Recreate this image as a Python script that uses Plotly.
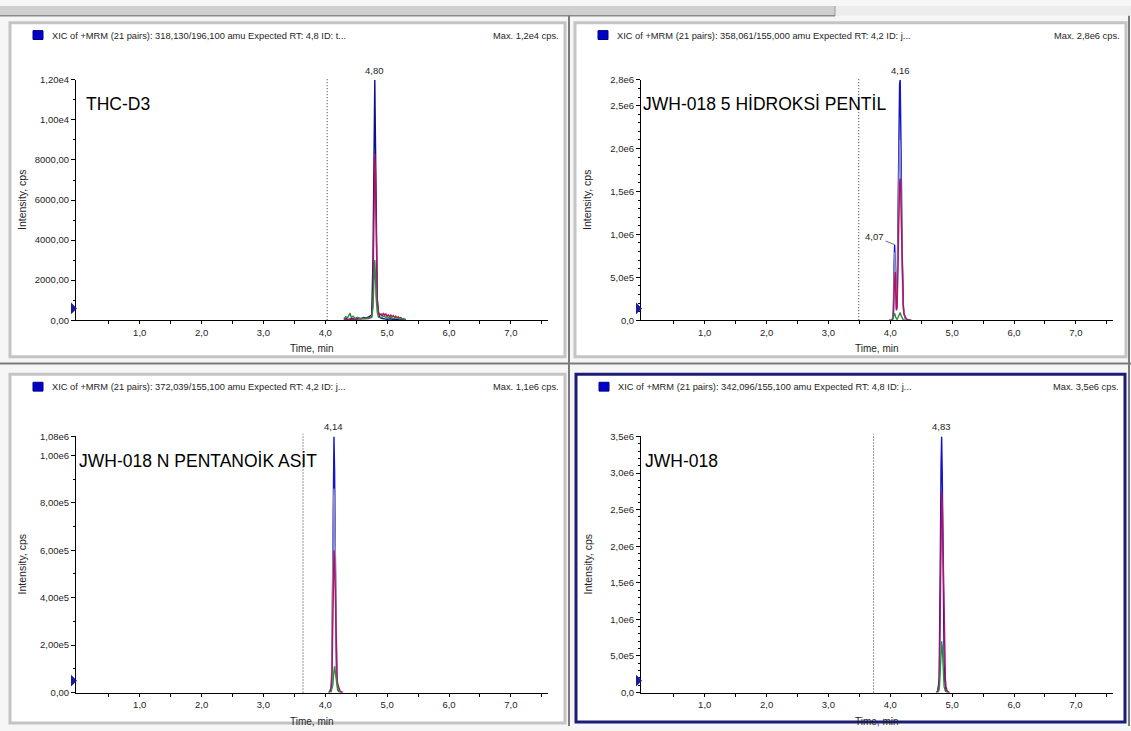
import plotly.graph_objects as go

W, H = 1131, 731
FONT = "Liberation Sans"

# ---------------- data ----------------
# THC-D3  (318,130/196,100)
thc_blue_t = [4.30, 4.34, 4.38, 4.42, 4.46, 4.50, 4.54, 4.58, 4.62, 4.66, 4.70, 4.73, 4.75, 4.77, 4.78,
              4.79, 4.80, 4.81, 4.82, 4.83, 4.84, 4.86, 4.88, 4.91, 4.95, 5.00, 5.05, 5.10, 5.15, 5.20, 5.25, 5.30]
thc_blue_y = [40, 70, 30, 90, 60, 50, 110, 80, 140, 100, 170, 210, 260, 2900, 6800,
              10500, 12000, 9200, 5200, 2600, 1100, 380, 160, 90, 60, 40, 70, 30, 50, 40, 20, 30]
thc_red_t = [4.30, 4.40, 4.50, 4.60, 4.70, 4.75, 4.77, 4.78, 4.79, 4.80, 4.81, 4.82, 4.83, 4.84, 4.86, 4.88,
             4.90, 4.92, 4.94, 4.96, 4.98, 5.00, 5.02, 5.04, 5.06, 5.08, 5.10, 5.12, 5.14, 5.16, 5.18, 5.20,
             5.22, 5.25, 5.30]
thc_red_y = [20, 40, 30, 60, 80, 150, 900, 3600, 6900, 8300, 7400, 4600, 2100, 900, 380, 240,
             330, 200, 360, 240, 310, 180, 280, 150, 260, 170, 230, 120, 200, 110, 170, 90,
             130, 60, 30]
thc_green_t = [4.30, 4.33, 4.36, 4.38, 4.40, 4.42, 4.45, 4.48, 4.52, 4.56, 4.60, 4.65, 4.70, 4.75, 4.77,
               4.78, 4.79, 4.80, 4.81, 4.82, 4.84, 4.86, 4.90, 4.95, 5.00, 5.05, 5.10, 5.15, 5.20, 5.25, 5.30]
thc_green_y = [60, 180, 120, 250, 350, 140, 200, 90, 150, 60, 110, 80, 120, 160, 600,
               1800, 2800, 3000, 2300, 1200, 400, 150, 120, 200, 90, 160, 70, 140, 60, 80, 40]

# JWH-018 5-hydroxypentyl  (358,061/155,000)
hp_blue_t = [3.98, 4.02, 4.04, 4.05, 4.06, 4.07, 4.08, 4.09, 4.10, 4.11, 4.12, 4.13, 4.14, 4.15, 4.16,
             4.17, 4.18, 4.19, 4.20, 4.21, 4.22, 4.24, 4.27, 4.30, 4.34]
hp_blue_y = [0, 2e3, 1.5e4, 1.2e5, 6.0e5, 8.8e5, 6.6e5, 2.6e5, 1.3e5, 3.1e5, 1.05e6, 1.9e6, 2.45e6, 2.75e6, 2.8e6,
             2.35e6, 1.6e6, 8.8e5, 4.0e5, 1.8e5, 8e4, 2.5e4, 6e3, 1e3, 0]
hp_lav_t = [4.00, 4.04, 4.05, 4.06, 4.07, 4.08, 4.09, 4.10, 4.11, 4.12, 4.13, 4.14, 4.15, 4.16, 4.17,
            4.18, 4.19, 4.20, 4.22, 4.25, 4.30]
hp_lav_y = [0, 1e4, 9e4, 4.6e5, 7.9e5, 6.2e5, 2.4e5, 1.1e5, 2.6e5, 8.5e5, 1.5e6, 1.95e6, 2.1e6, 2.0e6, 1.7e6,
            1.2e6, 6.8e5, 3.0e5, 7e4, 1.5e4, 0]
hp_red_t = [4.02, 4.05, 4.06, 4.07, 4.08, 4.09, 4.10, 4.11, 4.12, 4.13, 4.14, 4.15, 4.16, 4.17, 4.18,
            4.19, 4.20, 4.21, 4.22, 4.24, 4.26, 4.28, 4.31]
hp_red_y = [0, 3e4, 3.2e5, 5.4e5, 5.6e5, 3.0e5, 1.2e5, 1.5e5, 4.5e5, 9.5e5, 1.35e6, 1.6e6, 1.65e6, 1.5e6, 1.1e6,
            6.5e5, 3.3e5, 1.6e5, 8e4, 3.5e4, 1.5e4, 5e3, 0]
hp_green_t = [4.03, 4.05, 4.07, 4.09, 4.11, 4.13, 4.15, 4.16, 4.17, 4.19, 4.21, 4.24]
hp_green_y = [0, 3e4, 8e4, 3e4, 1e4, 4e4, 8.5e4, 9e4, 6e4, 2e4, 5e3, 0]

# JWH-018 N-pentanoic acid  (372,039/155,100)
pa_blue_t = [4.05, 4.08, 4.10, 4.11, 4.12, 4.13, 4.14, 4.15, 4.16, 4.17, 4.18, 4.20, 4.22, 4.25, 4.29]
pa_blue_y = [0, 5e3, 4e4, 1.6e5, 5.2e5, 9.2e5, 1.08e6, 9.4e5, 5.6e5, 2.2e5, 8e4, 2.5e4, 8e3, 2e3, 0]
pa_lav_t = [4.06, 4.09, 4.10, 4.11, 4.12, 4.13, 4.14, 4.15, 4.16, 4.17, 4.18, 4.19, 4.21, 4.24, 4.28]
pa_lav_y = [0, 1.5e4, 6e4, 2.2e5, 5.0e5, 7.6e5, 8.6e5, 8.0e5, 5.6e5, 2.8e5, 1.2e5, 5e4, 1.5e4, 3e3, 0]
pa_red_t = [4.07, 4.10, 4.11, 4.12, 4.13, 4.14, 4.15, 4.16, 4.17, 4.18, 4.19, 4.20, 4.22, 4.24, 4.27]
pa_red_y = [0, 2.5e4, 1.0e5, 2.9e5, 5.0e5, 6.0e5, 5.7e5, 4.1e5, 2.4e5, 1.3e5, 6.5e4, 3.5e4, 1.5e4, 5e3, 0]
pa_green_t = [4.09, 4.12, 4.14, 4.15, 4.16, 4.18, 4.20, 4.23]
pa_green_y = [0, 3e4, 9e4, 1.1e5, 9e4, 4e4, 1e4, 0]

# JWH-018  (342,096/155,100)
jw_blue_t = [4.74, 4.77, 4.79, 4.80, 4.81, 4.82, 4.83, 4.84, 4.85, 4.86, 4.87, 4.88, 4.90, 4.93, 4.96]
jw_blue_y = [0, 2e4, 2e5, 8e5, 2.0e6, 3.1e6, 3.5e6, 3.0e6, 1.9e6, 9.5e5, 4.0e5, 1.5e5, 3e4, 5e3, 0]
jw_red_t = [4.76, 4.79, 4.80, 4.81, 4.82, 4.83, 4.84, 4.85, 4.86, 4.87, 4.88, 4.89, 4.90, 4.92, 4.95]
jw_red_y = [0, 1.2e5, 5.5e5, 1.4e6, 2.3e6, 2.75e6, 2.6e6, 2.0e6, 1.3e6, 8.0e5, 4.2e5, 2.0e5, 8e4, 2e4, 0]
jw_green_t = [4.77, 4.79, 4.80, 4.81, 4.82, 4.83, 4.84, 4.85, 4.86, 4.87, 4.89, 4.92]
jw_green_y = [0, 4e4, 1.5e5, 3.6e5, 6.0e5, 7.0e5, 6.2e5, 4.0e5, 2.0e5, 8e4, 2e4, 0]

# axis ticks
x_tick_vals = [1, 2, 3, 4, 5, 6, 7]
x_tick_text = ["1,0", "2,0", "3,0", "4,0", "5,0", "6,0", "7,0"]
x_minor_vals = [0.5, 1.5, 2.5, 3.5, 4.5, 5.5, 6.5, 7.5]

thc_yvals = [0, 2000, 4000, 6000, 8000, 10000, 12000]
thc_ytext = ["0,00", "2000,00", "4000,00", "6000,00", "8000,00", "1,00e4", "1,20e4"]
hp_yvals = [0, 5e5, 1e6, 1.5e6, 2e6, 2.5e6, 2.8e6]
hp_ytext = ["0,0", "5,0e5", "1,0e6", "1,5e6", "2,0e6", "2,5e6", "2,8e6"]
pa_yvals = [0, 2e5, 4e5, 6e5, 8e5, 1e6, 1.08e6]
pa_ytext = ["0,00", "2,00e5", "4,00e5", "6,00e5", "8,00e5", "1,00e6", "1,08e6"]
jw_yvals = [0, 5e5, 1e6, 1.5e6, 2e6, 2.5e6, 3e6, 3.5e6]
jw_ytext = ["0,0", "5,0e5", "1,0e6", "1,5e6", "2,0e6", "2,5e6", "3,0e6", "3,5e6"]

# ---------------- layout helpers ----------------
def fx(px):
    return px / W


def fy(py):
    return 1 - py / H


BLUE = "#1414c8"
RED = "#b0145e"
GREEN = "#2e8b3a"
LAV = "#8c8cc8"

panels = [
    dict(ax="", left=76, right=548, top=75, zero=319, fl=10, fr=565, ft=17, fb=356,
         ymax=12000, yv=thc_yvals, yt=thc_ytext, ymin_step=1000, rt=4.03,
         header="XIC of +MRM (21 pairs): 318,130/196,100 amu Expected RT: 4,8 ID: t...",
         maxtxt="Max. 1,2e4 cps.", name="THC-D3", name_x=84,
         traces=[(thc_blue_t, thc_blue_y, "#10108c"), (thc_red_t, thc_red_y, RED),
                 (thc_green_t, thc_green_y, GREEN)],
         peaks=[(4.80, 12000, "4,80")], frame="#c4c4c4", fw=3),
    dict(ax="2", left=641, right=1113, top=75, zero=319, fl=575, fr=1126, ft=17, fb=356,
         ymax=2.8e6, yv=hp_yvals, yt=hp_ytext, ymin_step=1e5, rt=3.49,
         header="XIC of +MRM (21 pairs): 358,061/155,000 amu Expected RT: 4,2 ID: j...",
         maxtxt="Max. 2,8e6 cps.", name="JWH-018 5 HİDROKSİ PENTİL", name_x=641,
         traces=[(hp_blue_t, hp_blue_y, BLUE), (hp_lav_t, hp_lav_y, LAV), (hp_red_t, hp_red_y, RED),
                 (hp_green_t, hp_green_y, GREEN)],
         peaks=[(4.16, 2.8e6, "4,16")], frame="#c4c4c4", fw=3),
    dict(ax="3", left=76, right=548, top=437, zero=697, fl=10, fr=565, ft=374, fb=728,
         ymax=1.08e6, yv=pa_yvals, yt=pa_ytext, ymin_step=1e5, rt=3.64,
         header="XIC of +MRM (21 pairs): 372,039/155,100 amu Expected RT: 4,2 ID: j...",
         maxtxt="Max. 1,1e6 cps.", name="JWH-018 N PENTANOİK ASİT", name_x=77,
         traces=[(pa_blue_t, pa_blue_y, BLUE), (pa_lav_t, pa_lav_y, LAV), (pa_red_t, pa_red_y, RED),
                 (pa_green_t, pa_green_y, GREEN)],
         peaks=[(4.14, 1.08e6, "4,14")], frame="#c4c4c4", fw=3),
    dict(ax="4", left=641, right=1113, top=437, zero=697, fl=576, fr=1125, ft=374, fb=727,
         ymax=3.5e6, yv=jw_yvals, yt=jw_ytext, ymin_step=1e5, rt=3.73,
         header="XIC of +MRM (21 pairs): 342,096/155,100 amu Expected RT: 4,8 ID: j...",
         maxtxt="Max. 3,5e6 cps.", name="JWH-018", name_x=643,
         traces=[(jw_blue_t, jw_blue_y, BLUE), (jw_red_t, jw_red_y, RED),
                 (jw_green_t, jw_green_y, GREEN)],
         peaks=[(4.83, 3.5e6, "4,83")], frame="#1c1c78", fw=3),
]

fig = go.Figure()
shapes = []
annotations = []
layout_axes = {}

# window chrome: tab strip and separators
shapes.append(dict(type="rect", xref="paper", yref="paper", x0=0, x1=fx(835), y0=fy(10), y1=1,
                   fillcolor="#cfcfcf", line=dict(width=0), layer="below"))
shapes.append(dict(type="rect", xref="paper", yref="paper", x0=fx(835), x1=1, y0=fy(10), y1=1,
                   fillcolor="#ececec", line=dict(width=0), layer="below"))
shapes.append(dict(type="line", xref="paper", yref="paper", x0=0, x1=fx(835), y0=fy(10), y1=fy(10),
                   line=dict(color="#8a8a8a", width=1.5), layer="below"))
shapes.append(dict(type="line", xref="paper", yref="paper", x0=fx(835), x1=fx(835), y0=fy(10), y1=1,
                   line=dict(color="#9a9a9a", width=1), layer="below"))
shapes.append(dict(type="line", xref="paper", yref="paper", x0=0, x1=1, y0=fy(363), y1=fy(363),
                   line=dict(color="#7a7a7a", width=2), layer="below"))
shapes.append(dict(type="line", xref="paper", yref="paper", x0=fx(569), x1=fx(569), y0=0, y1=fy(10),
                   line=dict(color="#7a7a7a", width=2), layer="below"))
shapes.append(dict(type="line", xref="paper", yref="paper", x0=fx(1129), x1=fx(1129), y0=0, y1=fy(10),
                   line=dict(color="#7a7a7a", width=2), layer="below"))

for p in panels:
    a = p["ax"]
    xa, ya = "x" + a, "y" + a
    # panel frame
    shapes.append(dict(type="rect", xref="paper", yref="paper",
                       x0=fx(p["fl"]), x1=fx(p["fr"]), y0=fy(p["fb"]), y1=fy(p["ft"]),
                       fillcolor="white", line=dict(color=p["frame"], width=p["fw"]), layer="below"))
    # header: colour key, description, max intensity
    hy = p["ft"] + 13
    shapes.append(dict(type="rect", xref="paper", yref="paper",
                       x0=fx(p["fl"] + 23), x1=fx(p["fl"] + 33), y0=fy(hy + 4), y1=fy(hy - 5),
                       fillcolor="#0000c8", line=dict(color="#000080", width=1), layer="below"))
    annotations.append(dict(xref="paper", yref="paper", x=fx(p["fl"] + 40), y=fy(hy), text=p["header"],
                            xanchor="left", yanchor="middle", showarrow=False,
                            font=dict(family=FONT, size=9.3, color="#1e1e1e")))
    annotations.append(dict(xref="paper", yref="paper", x=fx(p["fr"] - 4), y=fy(hy), text=p["maxtxt"],
                            xanchor="right", yanchor="middle", showarrow=False,
                            font=dict(family=FONT, size=9.3, color="#1e1e1e")))
    # compound name
    annotations.append(dict(xref="paper", yref="paper", x=fx(p["name_x"]), y=fy(p["top"] + 25),
                            text=p["name"], xanchor="left", yanchor="middle", showarrow=False,
                            font=dict(family=FONT, size=17.5, color="black")))
    # axis titles
    annotations.append(dict(xref="paper", yref="paper", x=fx((p["left"] + p["right"]) / 2),
                            y=fy(p["zero"] + 29), text="Time, min", xanchor="center", yanchor="middle",
                            showarrow=False, font=dict(family=FONT, size=10, color="#1e1e1e")))
    annotations.append(dict(xref="paper", yref="paper", x=fx(p["fl"] + 12),
                            y=fy((p["top"] + p["zero"]) / 2), text="Intensity, cps", textangle=-90,
                            xanchor="center", yanchor="middle", showarrow=False,
                            font=dict(family=FONT, size=10.5, color="#1e1e1e")))
    # threshold marker on the intensity axis
    c = p["zero"] - 12
    shapes.append(dict(type="path", xref="paper", yref="paper",
                       path=f"M {fx(p['left'] - 5)},{fy(c - 6)} L {fx(p['left'] + 1)},{fy(c)} "
                            f"L {fx(p['left'] - 5)},{fy(c + 6)} Z",
                       fillcolor="#1a1a9a", line=dict(width=0)))
    # expected retention time marker
    shapes.append(dict(type="line", xref=xa, yref=ya + " domain", x0=p["rt"], x1=p["rt"], y0=0, y1=1.01,
                       line=dict(color="#333333", width=1, dash="1px,2px")))

    for t, v, col in p["traces"]:
        fig.add_trace(go.Scatter(x=t, y=v, mode="lines", xaxis=xa, yaxis=ya,
                                 line=dict(color=col, width=1.4), showlegend=False, hoverinfo="skip"))
    for px_, py_, txt in p["peaks"]:
        annotations.append(dict(xref=xa, yref=ya, x=px_, y=py_, text=txt, showarrow=False,
                                yanchor="bottom", yshift=2,
                                font=dict(family=FONT, size=9.5, color="#1e1e1e")))

    key = "" if a == "" else a
    layout_axes["xaxis" + key] = dict(
        domain=[fx(p["left"]), fx(p["right"])], anchor=ya, range=[-0.03, 7.6],
        showline=True, linecolor="black", linewidth=1, showgrid=False, zeroline=False,
        tickmode="array", tickvals=x_tick_vals, ticktext=x_tick_text, ticks="outside",
        ticklen=3, tickcolor="black", tickfont=dict(family=FONT, size=9.5, color="#1e1e1e"),
        minor=dict(tickmode="array", tickvals=x_minor_vals, ticks="outside", ticklen=3, tickcolor="black"),
        fixedrange=True)
    minor_vals = []
    v = p["ymin_step"]
    while v < p["ymax"]:
        minor_vals.append(v)
        v += p["ymin_step"]
    layout_axes["yaxis" + key] = dict(
        domain=[fy(p["zero"]), fy(p["top"])], anchor=xa, range=[0, p["ymax"]],
        showline=True, linecolor="black", linewidth=1, showgrid=False, zeroline=False,
        tickmode="array", tickvals=p["yv"], ticktext=p["yt"], ticks="outside", ticklen=4,
        tickcolor="black", tickfont=dict(family=FONT, size=9.5, color="#1e1e1e"),
        minor=dict(tickmode="array", tickvals=minor_vals, ticks="outside", ticklen=2, tickcolor="black"),
        fixedrange=True)

# secondary peak apex label with leader line
annotations.append(dict(xref="x2", yref="y2", x=4.07, y=8.8e5, text="4,07", showarrow=True,
                        arrowhead=0, arrowwidth=0.8, arrowcolor="#444444", ax=-20, ay=-8, standoff=0,
                        font=dict(family=FONT, size=9.5, color="#1e1e1e")))

fig.update_layout(width=W, height=H, margin=dict(l=0, r=0, t=0, b=0),
                  paper_bgcolor="#f6f6f6", plot_bgcolor="rgba(0,0,0,0)",
                  shapes=shapes, annotations=annotations, showlegend=False, **layout_axes)

fig.write_html("out.html")
